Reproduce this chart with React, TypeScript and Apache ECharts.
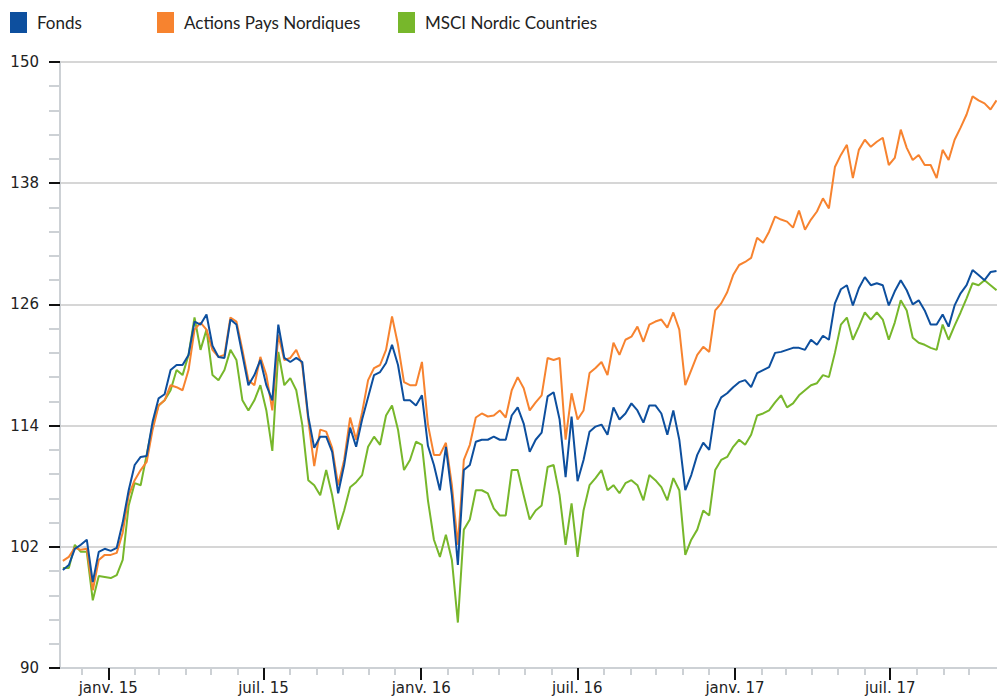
import React, { useEffect, useRef } from "react";
import * as echarts from "echarts";

// ---- data (weekly samples) ----
const seriesNames = ["Fonds", "Actions Pays Nordiques", "MSCI Nordic Countries"];
const seriesColors = ["#0d4f9e", "#f7832f", "#77b72b"];

const firstSample = new Date(2014, 10, 9).getTime();
const lastSample = new Date(2017, 10, 2).getTime();
const axisStart = new Date(2014, 10, 5, 16).getTime();
const axisEnd = new Date(2017, 10, 2, 14).getTime();

const fondsValues = [
  99.7, 100.2, 101.8, 102.2, 102.7, 98.5, 101.5, 101.8, 101.6, 101.9,
  104.4, 107.6, 110.1, 110.9, 111.0, 114.4, 116.7, 117.1, 119.5, 120.0,
  120.0, 121.0, 124.3, 124.0, 125.0, 121.9, 120.8, 120.7, 124.5, 124.0,
  121.0, 118.0, 119.0, 120.5, 118.0, 116.5, 124.0, 120.7, 120.3, 120.7,
  120.3, 114.9, 111.8, 112.9, 112.9, 111.4, 107.3, 110.1, 113.8, 111.9,
  114.6, 116.8, 119.0, 119.3, 120.2, 122.0, 120.0, 116.5, 116.5, 116.0,
  117.0, 112.0, 110.1, 107.6, 111.9, 107.1, 100.2, 109.6, 110.1, 112.4,
  112.6, 112.6, 112.9, 112.6, 112.6, 115.0, 115.8, 114.2, 111.4, 112.6,
  113.3, 116.9, 117.3, 114.6, 108.9, 114.9, 108.5, 110.6, 113.4, 113.9,
  114.1, 113.1, 115.8, 114.6, 115.2, 116.2, 115.5, 114.3, 116.0, 116.0,
  115.2, 113.1, 115.5, 112.6, 107.6, 109.1, 111.1, 112.3, 111.6, 115.5,
  116.8, 117.2, 117.8, 118.3, 118.5, 117.8, 119.2, 119.5, 119.8, 121.2,
  121.3, 121.5, 121.7, 121.7, 121.5, 122.5, 122.0, 122.9, 122.5, 126.1,
  127.5, 127.9, 125.9, 127.6, 128.7, 127.9, 128.1, 127.9, 125.9, 127.3,
  128.4, 127.4, 126.0, 126.4, 125.4, 124.0, 124.0, 125.0, 123.8, 125.9,
  127.1, 127.9, 129.4, 128.9, 128.4, 129.2, 129.3,
];

const actionsValues = [
  100.6, 101.0, 101.9, 101.7, 101.8, 97.7, 100.7, 101.2, 101.2, 101.4,
  103.4, 107.1, 108.6, 109.6, 110.4, 113.6, 116.0, 116.5, 118.0, 117.8,
  117.5, 119.5, 123.5, 124.2, 123.5, 121.5, 120.8, 121.0, 124.7, 124.3,
  121.5, 118.5, 118.0, 120.8, 119.0, 115.5, 123.0, 120.5, 120.7, 121.5,
  120.0, 114.6, 110.0, 113.6, 113.4, 111.8, 108.1, 110.6, 114.8, 112.6,
  115.3, 118.5, 119.7, 120.0, 121.5, 124.8, 122.0, 118.3, 118.0, 118.0,
  120.3, 114.1, 111.1, 111.1, 112.3, 108.1, 102.2, 110.6, 112.1, 114.8,
  115.2, 114.9, 115.0, 115.5, 114.8, 117.5, 118.8, 117.7, 115.5, 116.3,
  117.0, 120.7, 120.5, 120.7, 112.6, 117.2, 114.6, 115.5, 119.2, 119.7,
  120.3, 119.0, 122.2, 121.0, 122.5, 122.8, 123.8, 122.3, 124.0, 124.3,
  124.5, 123.7, 125.2, 123.5, 118.0, 119.5, 121.0, 121.8, 121.3, 125.4,
  126.1, 127.2, 128.9, 129.9, 130.2, 130.6, 132.6, 132.1, 133.2, 134.7,
  134.4, 134.2, 133.6, 135.3, 133.4, 134.4, 135.2, 136.5, 135.5, 139.6,
  140.8, 141.8, 138.5, 141.3, 142.3, 141.6, 142.1, 142.5, 139.8, 140.5,
  143.3, 141.5, 140.3, 140.8, 139.8, 139.8, 138.5, 141.3, 140.3, 142.3,
  143.5, 144.8, 146.6, 146.2, 145.9, 145.3, 146.2,
];

const msciValues = [
  99.9, 99.9, 102.2, 101.5, 101.5, 96.7, 99.1, 99.0, 98.9, 99.2,
  100.7, 106.1, 108.3, 108.1, 111.1, 114.1, 116.0, 116.5, 117.5, 119.5,
  119.0, 121.0, 124.7, 121.5, 123.5, 119.0, 118.5, 119.5, 121.5, 120.5,
  116.5, 115.5, 116.5, 118.0, 115.5, 111.5, 121.3, 118.0, 118.7, 117.5,
  114.1, 108.6, 108.1, 107.1, 109.6, 107.1, 103.7, 105.6, 107.9, 108.4,
  109.1, 111.9, 112.9, 112.1, 115.0, 116.0, 113.6, 109.6, 110.6, 112.4,
  112.1, 106.6, 102.7, 101.0, 103.2, 100.7, 94.5, 103.7, 104.7, 107.6,
  107.6, 107.3, 105.8, 105.1, 105.1, 109.6, 109.6, 107.1, 104.7, 105.6,
  106.1, 109.9, 110.1, 107.1, 102.2, 106.3, 101.0, 105.6, 108.1, 108.8,
  109.6, 107.6, 108.1, 107.3, 108.3, 108.6, 108.1, 106.6, 109.1, 108.6,
  107.9, 106.6, 108.8, 107.6, 101.2, 102.7, 103.7, 105.6, 105.1, 109.6,
  110.6, 110.9, 111.9, 112.6, 112.1, 113.1, 115.0, 115.2, 115.5, 116.3,
  117.0, 115.8, 116.2, 117.0, 117.5, 118.0, 118.2, 119.0, 118.8, 121.2,
  124.0, 124.7, 122.5, 123.8, 125.2, 124.5, 125.2, 124.5, 122.5, 124.2,
  126.4, 125.4, 122.7, 122.2, 122.0, 121.7, 121.5, 124.0, 122.5, 123.9,
  125.2, 126.6, 128.1, 127.9, 128.4, 127.9, 127.4,
];

const frenchMonthAbbr = ["janv.", "févr.", "mars", "avr.", "mai", "juin", "juil.", "août", "sept.", "oct.", "nov.", "déc."];

// x-axis tick positions: every month (minor) and every January / July (major)
const monthTicks: number[] = [];
for (let y = 2014; y <= 2017; y++) {
  for (let m = 0; m < 12; m++) {
    const t = new Date(y, m, 1).getTime();
    if (t > axisStart && t < axisEnd - 86400000 * 3) monthTicks.push(t);
  }
}
const halfYearTicks = monthTicks.filter((t) => {
  const m = new Date(t).getMonth();
  return m === 0 || m === 6;
});

const sampleCount = fondsValues.length;
const sampleDates = fondsValues.map(
  (_, i) => firstSample + ((lastSample - firstSample) * i) / (sampleCount - 1)
);

const toPairs = (vals: number[]) => vals.map((v, i) => [sampleDates[i], v]);

const legendCommon = {
  icon: "rect",
  itemWidth: 17,
  itemHeight: 21,
  top: 12,
  padding: 0,
  selectedMode: false,
  textStyle: {
    fontFamily: "Lato",
    fontSize: 17,
    color: "#222",
    padding: [0, 0, 0, 5],
  },
};

export default function App() {
  const ref = useRef<HTMLDivElement>(null);

  useEffect(() => {
    if (!ref.current) return;
    const chart = echarts.init(ref.current, null, { renderer: "svg" });
    const gray = "#cdd1d5";
    const axisFont = { fontFamily: "DejaVu Sans", fontSize: 15, color: "#222" };

    chart.setOption({
      animation: false,
      backgroundColor: "#ffffff",
      legend: [
        { ...legendCommon, left: 10, data: [seriesNames[0]] },
        { ...legendCommon, left: 157, data: [seriesNames[1]] },
        { ...legendCommon, left: 398, data: [seriesNames[2]] },
      ],
      grid: { left: 60, right: 0, top: 62, bottom: 32, containLabel: false },
      xAxis: [
        {
          type: "value",
          min: axisStart,
          max: axisEnd,
          axisLine: { show: true, lineStyle: { color: gray, width: 2 } },
          axisTick: { show: true, customValues: monthTicks, length: 7, lineStyle: { color: gray, width: 2 } },
          axisLabel: { show: false },
          splitLine: { show: false },
        },
        {
          type: "value",
          min: axisStart,
          max: axisEnd,
          position: "bottom",
          axisLine: { show: false },
          axisTick: { show: true, customValues: halfYearTicks, length: 12, lineStyle: { color: "#111", width: 2 } },
          axisLabel: {
            show: true,
            customValues: halfYearTicks,
            margin: 12,
            ...axisFont,
            formatter: (v: number) => {
              const d = new Date(v);
              return frenchMonthAbbr[d.getMonth()] + " " + String(d.getFullYear()).slice(2);
            },
          },
          splitLine: { show: false },
        },
      ],
      yAxis: {
        type: "value",
        min: 90,
        max: 150,
        interval: 12,
        axisLine: { show: true, lineStyle: { color: gray, width: 2 } },
        axisTick: { show: true, length: 11, lineStyle: { color: "#111", width: 2 } },
        minorTick: { show: true, splitNumber: 5, length: 11, lineStyle: { color: gray, width: 2 } },
        splitLine: { show: true, lineStyle: { color: "#d6d6d6", width: 2 } },
        axisLabel: { margin: 21, ...axisFont },
      },
      series: [
        {
          name: seriesNames[0],
          type: "line",
          data: toPairs(fondsValues),
          showSymbol: false,
          color: seriesColors[0],
          lineStyle: { width: 2 },
          z: 4,
        },
        {
          name: seriesNames[1],
          type: "line",
          data: toPairs(actionsValues),
          showSymbol: false,
          color: seriesColors[1],
          lineStyle: { width: 2 },
          z: 3,
        },
        {
          name: seriesNames[2],
          type: "line",
          data: toPairs(msciValues),
          showSymbol: false,
          color: seriesColors[2],
          lineStyle: { width: 2 },
          z: 2,
        },
      ],
    });

    return () => chart.dispose();
  }, []);

  return (
    <div
      ref={ref}
      style={{ position: "fixed", left: 0, top: 0, width: 997, height: 700, background: "#fff" }}
    />
  );
}
